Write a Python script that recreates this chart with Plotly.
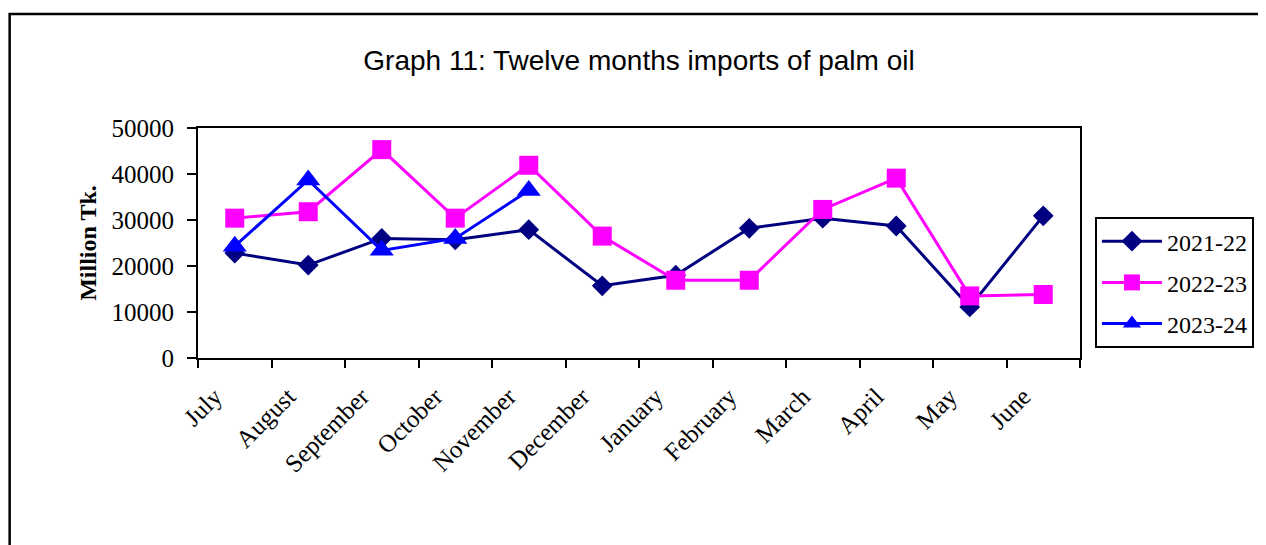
import plotly.graph_objects as go

months = ["July", "August", "September", "October", "November", "December",
          "January", "February", "March", "April", "May", "June"]
y2021_22 = [22800, 20200, 26000, 25700, 27900, 15700, 18000, 28200, 30400, 28700, 11100, 30900]
y2022_23 = [30400, 31800, 45300, 30400, 41900, 26500, 16900, 16900, 32300, 39100, 13500, 13800]
y2023_24 = [24300, 38700, 23400, 26000, 36400]
series_names = ["2021-22", "2022-23", "2023-24"]

SERIF = "Liberation Serif, Times New Roman, serif"
SANS = "Liberation Sans, Arial, sans-serif"

fig = go.Figure()
fig.add_trace(go.Scatter(x=months, y=y2021_22, name=series_names[0], mode="lines+markers",
                         legendgroup="a",
                         line=dict(color="#000080", width=3),
                         marker=dict(symbol="diamond", size=16, color="#000080")))
fig.add_trace(go.Scatter(x=months, y=y2022_23, name=series_names[1], mode="lines+markers",
                         legendgroup="b",
                         line=dict(color="#FF00FF", width=3),
                         marker=dict(symbol="square", size=19, color="#FF00FF")))
fig.add_trace(go.Scatter(x=months[:len(y2023_24)], y=y2023_24, name=series_names[2], mode="lines+markers",
                         legendgroup="c",
                         line=dict(color="#0000FF", width=3),
                         marker=dict(symbol="triangle-up", size=21, color="#0000FF")))

OFF = 8  # page body margin
W, H = 1258, 537
L, R, T, B = 198 - OFF, 1083 - OFF, 127.5 - OFF, 358.5 - OFF
fig.update_layout(
    width=W, height=H,
    margin=dict(l=L, r=W - R, t=T, b=H - B, pad=0),
    paper_bgcolor="white", plot_bgcolor="white",
    title=dict(text="Graph 11: Twelve months imports of palm oil",
               font=dict(family=SANS, size=28, color="black"),
               x=0.5, xref="paper", xanchor="center",
               y=1 - (60 - OFF) / H, yref="container", yanchor="middle"),
    legend=dict(x=(1098 - OFF - L) / (R - L), y=(B - (217 - OFF)) / (B - T),
                xanchor="left", yanchor="top",
                font=dict(family=SERIF, size=24, color="black"),
                bordercolor="black", borderwidth=2, bgcolor="white",
                tracegroupgap=7, itemwidth=60),
    showlegend=True,
)
fig.update_xaxes(type="category", range=[-0.5, len(months) - 0.5],
                 tickson="boundaries", ticks="outside", ticklen=8,
                 tickwidth=2, tickcolor="black", tickangle=-45,
                 ticklabelshift=-20, ticklabelstandoff=12,
                 showline=True, linecolor="black", linewidth=2, mirror=True,
                 showgrid=False, zeroline=False,
                 tickfont=dict(family=SERIF, size=25, color="black"))
fig.update_yaxes(range=[0, 50000], dtick=10000, tickformat="d", ticks="outside", ticklen=9,
                 tickwidth=2, tickcolor="black", ticklabelstandoff=8,
                 showline=True, linecolor="black", linewidth=2, mirror=True,
                 showgrid=False, zeroline=False,
                 tickfont=dict(family=SERIF, size=25, color="black"),
                 title=dict(text="<b>Million Tk.</b>", standoff=8,
                            font=dict(family=SERIF, size=24, color="black")))

# outer frame of the chart (cut off at right and bottom like the reference)
fig.add_shape(type="rect", xref="paper", yref="paper",
              x0=(9 - OFF - L) / (R - L), x1=(1275 - L) / (R - L),
              y0=(B - 560) / (B - T), y1=(B - (13 - OFF)) / (B - T),
              line=dict(color="black", width=2.5), fillcolor="rgba(0,0,0,0)", layer="below")

fig.write_html("out.html")
